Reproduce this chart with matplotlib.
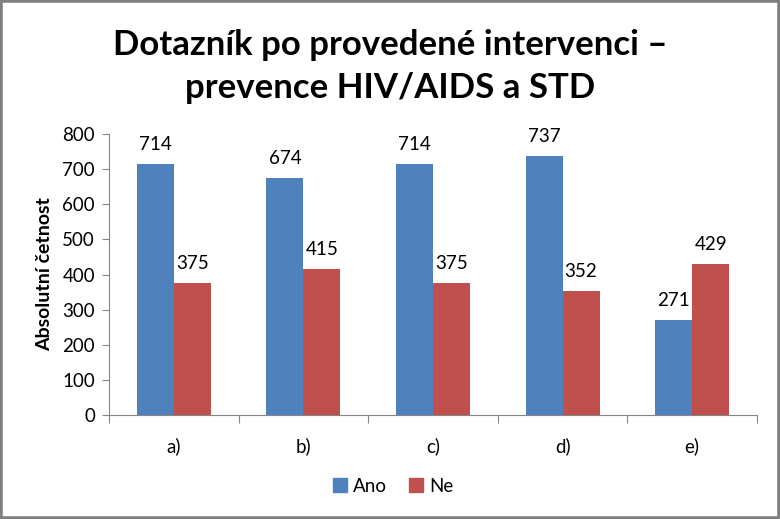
import matplotlib
matplotlib.use("Agg")
import matplotlib.pyplot as plt
from matplotlib.patches import Rectangle, Patch

kategorie = ['a)', 'b)', 'c)', 'd)', 'e)']
ano = [714, 674, 714, 737, 271]
ne = [375, 415, 375, 352, 429]

plt.rcParams['font.family'] = ['Lato', 'DejaVu Sans']

W, H = 780, 519
fig = plt.figure(figsize=(W / 100, H / 100), dpi=100)
ax = fig.add_axes([109 / W, (H - 415) / H, 648 / W, (415 - 134) / H])

modra = '#4F81BD'
cervena = '#C0504D'
seda = '#868686'
w = 0.285
x = list(range(len(kategorie)))
b1 = ax.bar([i - w / 2 for i in x], ano, w, color=modra, label='Ano')
b2 = ax.bar([i + w / 2 for i in x], ne, w, color=cervena, label='Ne')
for bars in (b1, b2):
	for r in bars:
		ax.annotate(str(int(r.get_height())), (r.get_x() + r.get_width() / 2, r.get_height()),
			xytext=(0, 8), textcoords='offset points', ha='center', va='bottom', fontsize=13.5)

ax.set_xlim(-0.5, len(kategorie) - 0.5)
ax.set_ylim(0, 800)
ax.set_yticks(range(0, 801, 100))
ax.tick_params(axis='y', labelsize=13.5, length=5, color=seda, direction='out', pad=5)
ax.set_xticks([i - 0.5 for i in range(len(kategorie) + 1)])
ax.set_xticklabels([])
ax.set_xticks(x, minor=True)
ax.set_xticklabels(kategorie, minor=True)
ax.tick_params(axis='x', which='major', length=6, color=seda)
ax.tick_params(axis='x', which='minor', length=0, labelsize=13.5, pad=16)
for s in ('top', 'right'):
	ax.spines[s].set_visible(False)
for s in ('left', 'bottom'):
	ax.spines[s].set_color(seda)
ax.set_ylabel('Absolutní četnost', fontsize=14, fontweight='bold', labelpad=7)

fig.text(0.5, (H - 45) / H, 'Dotazník po provedené intervenci –', ha='center', va='center',
	fontsize=25, fontweight='bold')
fig.text(0.5, (H - 88) / H, 'prevence HIV/AIDS a STD', ha='center', va='center',
	fontsize=25, fontweight='bold')

fig.legend(handles=[Patch(color=modra, label='Ano'), Patch(color=cervena, label='Ne')],
	loc='center', bbox_to_anchor=(393 / W, (H - 486) / H), ncol=2, frameon=False,
	fontsize=13.5, handlelength=0.75, handleheight=0.75, handletextpad=0.3, columnspacing=1.2)

fig.patches.append(Rectangle((0, 0), 1, 1, transform=fig.transFigure, fill=False,
	edgecolor='#7f7f7f', linewidth=4))
fig.savefig('out.png', dpi=100)
